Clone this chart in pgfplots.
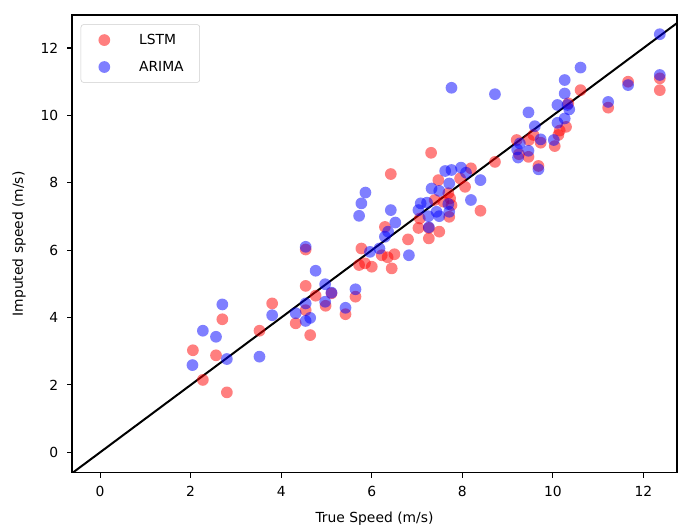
\documentclass[border=0pt]{standalone}
\usepackage{fontspec}
\setmainfont{DejaVu Sans}
\usepackage{pgfplots}
\pgfplotsset{compat=1.18}

\begin{document}
\fontsize{10.4}{12}\selectfont
\begin{tikzpicture}
\begin{axis}[
    name=main,
    scale only axis,
    width=453.75pt, height=343.3pt,
    xmin=-0.62, xmax=12.74,
    ymin=-0.605, ymax=12.98,
    xtick={0,2,...,12}, ytick={0,2,...,12},
    tick align=outside,
    xtick pos=left, ytick pos=left,
    major tick length=3.6pt,
    every tick/.style={black, line width=0.8pt},
    axis line style={line width=0.8pt},
    /pgf/number format/assume math mode=true,
    ticklabel style={font=\fontsize{10.4}{12}\selectfont},
    xticklabel style={yshift=-3pt},
    yticklabel style={xshift=-3pt},
    xlabel={True Speed (m/s)},
    ylabel={Imputed speed (m/s)},
    label style={font=\fontsize{10.4}{12}\selectfont},
    xlabel style={yshift=-4.5pt},
    ylabel style={yshift=4pt},
    legend cell align=left,
    legend style={at={(0.0144,0.9797)}, anchor=north west,
        draw=black!20, rounded corners=2pt, fill=white,
        font=\fontsize{10.4}{12}\selectfont,
        row sep=7pt, inner xsep=6pt, inner ysep=5pt},
    legend image code/.code={\path[draw=none] (0,0) -- (1.25cm,0); \fill[#1, draw=none, fill opacity=0.5] (0.5cm,0cm) circle (4.4pt);},
]
\addplot[only marks, color=red, mark=*, mark size=4.4pt, mark options={draw opacity=0, fill=red, fill opacity=0.5}] coordinates {
(2.05,3.03) (2.27,2.15) (2.56,2.88) (2.70,3.95) (2.80,1.78)
(3.52,3.61) (3.80,4.42) (4.32,3.83) (4.54,4.22) (4.54,4.94)
(4.54,6.02) (4.64,3.48) (4.76,4.65) (4.98,4.35) (5.11,4.72)
(5.42,4.10) (5.64,4.62) (5.72,5.56) (5.77,6.05) (5.85,5.61)
(6.00,5.51) (6.22,5.85) (6.29,6.69) (6.35,5.79) (6.42,8.26)
(6.44,5.46) (6.50,5.88) (6.80,6.32) (7.03,6.66) (7.06,6.94)
(7.26,6.35) (7.26,6.66) (7.31,8.89) (7.39,7.49) (7.47,8.08)
(7.49,6.55) (7.58,7.44) (7.69,7.69) (7.71,6.99) (7.73,7.54)
(7.76,7.34) (7.95,8.13) (8.06,7.88) (8.19,8.43) (8.40,7.17)
(8.72,8.62) (9.20,9.27) (9.46,8.77) (9.25,8.85) (9.47,9.27)
(9.57,9.42) (9.68,8.50) (9.73,9.19) (10.04,9.09) (10.12,9.42)
(10.15,9.55) (10.29,9.66) (10.34,10.36) (10.61,10.75) (11.22,10.23)
(11.66,11.00) (12.36,11.10) (12.36,10.75)
};
\addlegendentry{LSTM\hspace*{4pt}}
\addplot[only marks, color=blue, mark=*, mark size=4.4pt, mark options={draw opacity=0, fill=blue, fill opacity=0.5}] coordinates {
(2.04,2.59) (2.27,3.61) (2.56,3.43) (2.70,4.39) (2.80,2.77)
(3.52,2.84) (3.80,4.07) (4.32,4.13) (4.54,3.90) (4.54,4.42)
(4.54,6.10) (4.64,3.99) (4.76,5.39) (4.97,4.99) (4.97,4.47)
(5.11,4.74) (5.42,4.29) (5.64,4.84) (5.72,7.02) (5.77,7.39)
(5.86,7.71) (5.96,5.95) (6.17,6.05) (6.29,6.40) (6.36,6.55)
(6.42,7.19) (6.52,6.82) (6.82,5.85) (7.03,7.19) (7.08,7.39)
(7.22,7.41) (7.25,7.01) (7.26,6.68) (7.32,7.83) (7.43,7.14)
(7.49,7.01) (7.49,7.76) (7.62,8.35) (7.69,7.37) (7.71,7.98)
(7.71,7.14) (7.76,8.38) (7.76,10.82) (7.97,8.45) (8.08,8.30)
(8.19,7.49) (8.40,8.08) (8.72,10.63) (9.21,8.99) (9.23,8.75)
(9.27,9.17) (9.46,8.95) (9.46,10.09) (9.60,9.68) (9.68,8.40)
(9.73,9.29) (10.02,9.27) (10.10,9.78) (10.10,10.31) (10.26,9.91)
(10.26,10.65) (10.26,11.05) (10.32,10.31) (10.36,10.18) (10.61,11.42)
(11.22,10.40) (11.66,10.90) (12.36,11.20) (12.36,12.41)
};
\addlegendentry{ARIMA\hspace*{4pt}}
\addplot[black, line width=1.5pt, forget plot] coordinates {(-0.7,-0.7) (13.1,13.1)};
\end{axis}
\pgfresetboundingbox
\path[use as bounding box] ([xshift=-54pt, yshift=-40pt]main.south west) rectangle ([xshift=0.75pt, yshift=11.25pt]main.north east);
\end{tikzpicture}
\end{document}
